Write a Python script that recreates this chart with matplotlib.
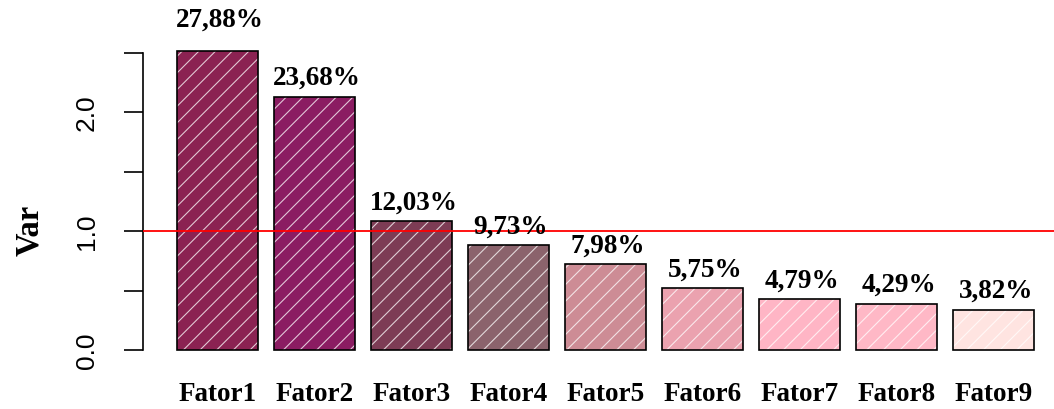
import matplotlib
matplotlib.use("Agg")
import matplotlib.pyplot as plt
import numpy as np

categories = ["Fator1", "Fator2", "Fator3", "Fator4", "Fator5",
              "Fator6", "Fator7", "Fator8", "Fator9"]
variances = [2.51, 2.13, 1.08, 0.88, 0.72, 0.52, 0.43, 0.39, 0.34]
pct_labels = ["27,88%", "23,68%", "12,03%", "9,73%", "7,98%",
              "5,75%", "4,79%", "4,29%", "3,82%"]
bar_colors = ["#8B2252", "#8B1C62", "#7D3C55", "#8B636C", "#CD8C95",
              "#EBA2AF", "#FFB5C5", "#FFB8C6", "#FFE4E1"]
y_ticks = [0.0, 0.5, 1.0, 1.5, 2.0, 2.5]
y_ticklabels = ["0.0", "", "1.0", "", "2.0", ""]
ref_line = 1.0

W, H = 1054, 410
fig = plt.figure(figsize=(W / 100, H / 100), dpi=100)

# pixel geometry
ax_left_px, ax_right_px = 143, 1054
y0_px, ppu = 351, 119.0       # pixel row of y=0, pixels per unit
bot_px, top_px = 360, 0
ax = fig.add_axes([ax_left_px / W, (H - bot_px) / H,
                   (ax_right_px - ax_left_px) / W, (bot_px - top_px) / H])

xpu = 80.8
x_lo = -0.224
x_hi = x_lo + (ax_right_px - ax_left_px) / xpu
ax.set_xlim(x_lo, x_hi)
ax.set_ylim(-(bot_px - y0_px) / ppu, (y0_px - top_px) / ppu)

n = len(categories)
lefts = 0.2 + 1.2 * np.arange(n)
centers = lefts + 0.5

plt.rcParams['hatch.linewidth'] = 0.8
for i in range(n):
    ax.bar(centers[i], variances[i], width=1.0, color=bar_colors[i],
           edgecolor=(1, 1, 1, 0.75), linewidth=0, hatch='//', zorder=2)
    ax.bar(centers[i], variances[i], width=1.0, fill=False,
           edgecolor='black', linewidth=1.2, zorder=3)

ax.axhline(ref_line, color='#FF0000', linewidth=1.3, zorder=4)

vmax = max(variances)
for c, v, lab in zip(centers, variances, pct_labels):
    off = 0.27 if v == vmax else 0.16
    ax.text(c + 0.03, v + off, lab, ha='center', va='center',
            family='Liberation Serif', fontweight='bold', fontsize=19.5,
            clip_on=False, zorder=5)

for c, lab in zip(centers, categories):
    ax.text(c, -(395 - y0_px) / ppu, lab, ha='center', va='center',
            family='Liberation Serif', fontweight='bold', fontsize=19.5,
            clip_on=False)

for s in ['top', 'right', 'bottom']:
    ax.spines[s].set_visible(False)
ax.spines['left'].set_bounds(0, 2.5)
ax.spines['left'].set_linewidth(1.2)
ax.set_xticks([])
ax.set_yticks(y_ticks)
ax.set_yticklabels(y_ticklabels, rotation=90, va='center',
                   family='Liberation Sans', fontsize=19)
ax.tick_params(axis='y', length=14, width=1.2, pad=18)

fig.text(30 / W, 1 - 230 / H, "Var", rotation=90, ha='center', va='center',
         family='Liberation Serif', fontweight='bold', fontsize=23.5)

fig.savefig("out.png", dpi=100)
